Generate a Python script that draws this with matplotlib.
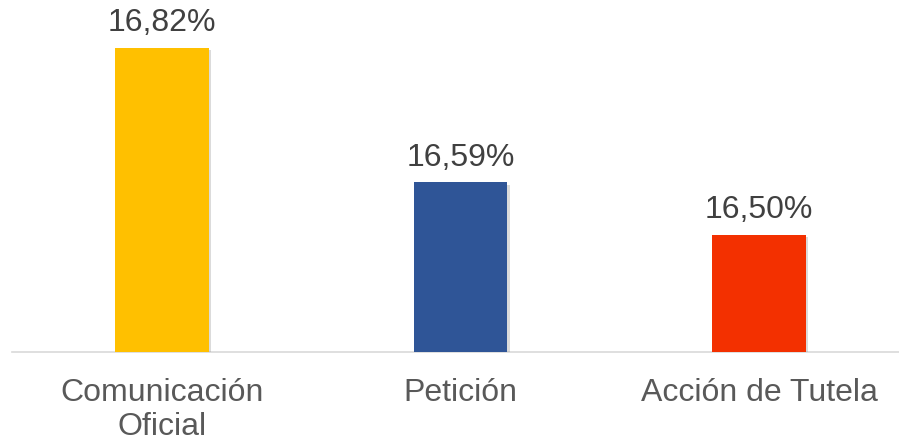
import matplotlib.pyplot as plt
import matplotlib.patheffects as pe

# data
categorias = ["Comunicación\nOficial", "Petición", "Acción de Tutela"]
valores = [16.82, 16.59, 16.50]
etiquetas = ["16,82%", "16,59%", "16,50%"]
colores = ["#FFC000", "#2F5597", "#F33000"]

plt.rcParams['font.family'] = ['Liberation Sans', 'DejaVu Sans']

fig = plt.figure(figsize=(8.99, 4.42), dpi=100)
ax = fig.add_axes([12/899, 90/442, 887/899, 352/442])

x = range(len(categorias))
bars = ax.bar(x, valores, width=0.314, color=colores, zorder=3)
for b in bars:
    b.set_path_effects([pe.SimplePatchShadow(offset=(1.5, -1.5), shadow_rgbFace='#999999', alpha=0.35), pe.Normal()])

for b, lab in zip(bars, etiquetas):
    ax.annotate(lab, (b.get_x() + b.get_width()/2, b.get_height()),
                xytext=(0, 7), textcoords='offset points',
                ha='center', va='bottom', fontsize=23, color='#404040')

ax.set_xlim(-0.502, 2.468)
ax.set_ylim(16.30, 16.902)
ax.set_xticks(list(x))
ax.set_xticklabels(categorias, fontsize=23, color='#595959', linespacing=1.15)
ax.tick_params(axis='x', length=0, pad=19)
ax.set_yticks([])
for s in ['top', 'right', 'left']:
    ax.spines[s].set_visible(False)
ax.spines['bottom'].set_color('#D9D9D9')
ax.spines['bottom'].set_linewidth(1.2)

plt.savefig('out.png', dpi=100)
